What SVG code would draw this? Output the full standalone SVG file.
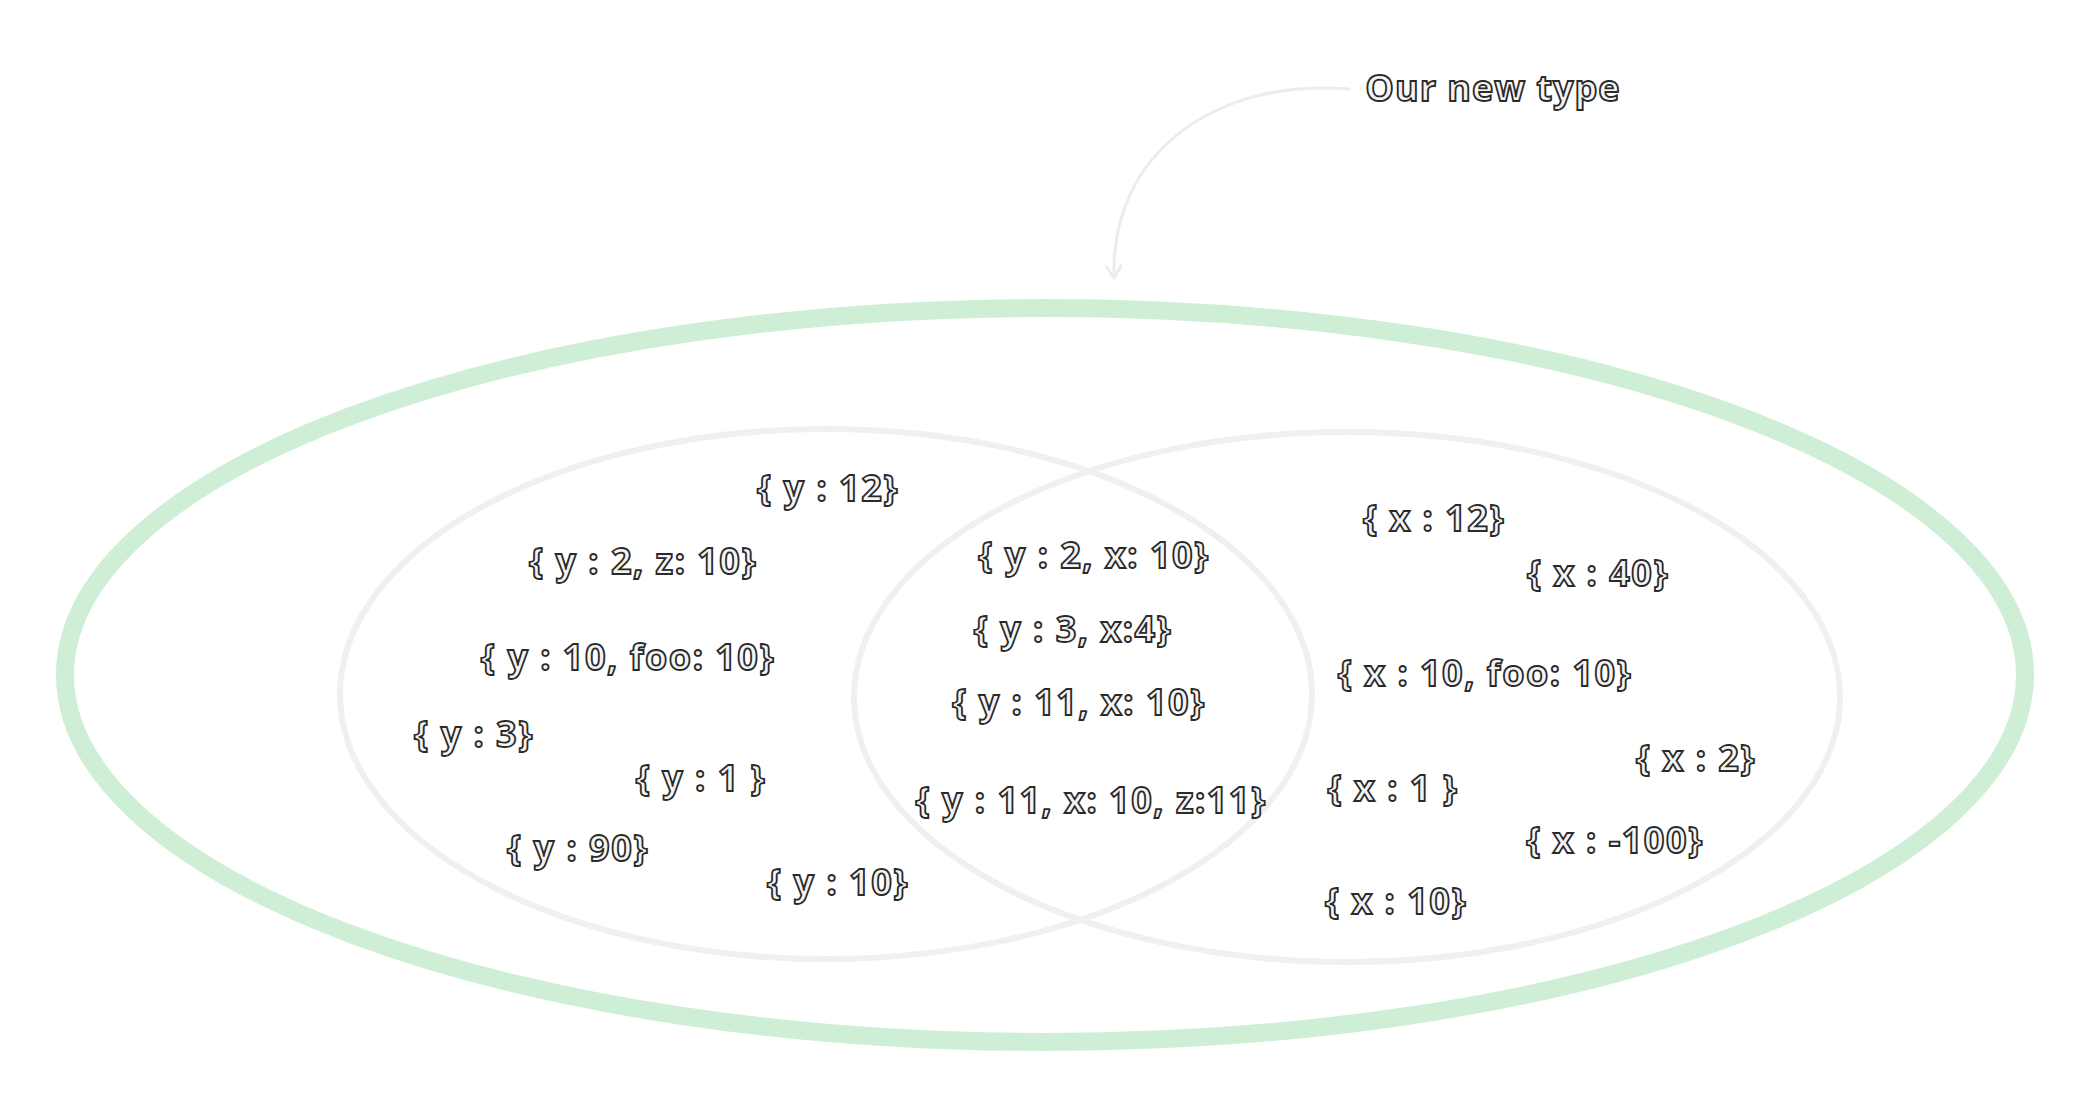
<svg xmlns="http://www.w3.org/2000/svg" width="2090" height="1108" viewBox="0 0 2090 1108">
<defs>
<style>
.lbl{font-family:"Open Sans","Liberation Sans",sans-serif;font-weight:700;font-size:36px;fill:#f4f4f4;stroke:#2a2a2a;stroke-width:1.8px;text-anchor:middle;letter-spacing:1.5px}
.title{font-size:36px;letter-spacing:1px}
.set{fill:none;stroke:#f0f0f0;stroke-width:6}
.outer{fill:none;stroke:#cfeed6;stroke-width:18}
.conn{fill:none;stroke:#ececec;stroke-width:3;stroke-linecap:round}
</style>
<marker id="arr" viewBox="0 0 12 12" refX="10" refY="6" markerWidth="6" markerHeight="6" orient="auto" markerUnits="strokeWidth">
<path d="M2 1 L10 6 L2 11" fill="none" stroke="#ececec" stroke-width="2" stroke-linecap="round" stroke-linejoin="round"/>
</marker>
</defs>
<rect width="2090" height="1108" fill="#ffffff"/>
<g id="outer-set"><ellipse class="outer" cx="1045" cy="675" rx="980" ry="367"/></g>
<g id="set-y"><ellipse class="set" cx="826" cy="694" rx="486" ry="265"/></g>
<g id="set-x"><ellipse class="set" cx="1347" cy="697" rx="493" ry="265"/></g>
<g id="connectors"><path class="conn" d="M1349 89 C1220 78 1110 150 1114 278" marker-end="url(#arr)"/></g>
<g id="label-title"><text class="lbl title" x="1493" y="101">Our new type</text></g>
<g id="y-values">
<text class="lbl" x="828" y="501">{ y : 12}</text>
<text class="lbl" x="643" y="574">{ y : 2, z: 10}</text>
<text class="lbl" x="628" y="670">{ y : 10, foo: 10}</text>
<text class="lbl" x="474" y="747">{ y : 3}</text>
<text class="lbl" x="701" y="791">{ y : 1 }</text>
<text class="lbl" x="578" y="861">{ y : 90}</text>
<text class="lbl" x="838" y="895">{ y : 10}</text>
</g>
<g id="xy-values">
<text class="lbl" x="1094" y="568">{ y : 2, x: 10}</text>
<text class="lbl" x="1073" y="642">{ y : 3, x:4}</text>
<text class="lbl" x="1079" y="715">{ y : 11, x: 10}</text>
<text class="lbl" x="1091" y="813">{ y : 11, x: 10, z:11}</text>
</g>
<g id="x-values">
<text class="lbl" x="1434" y="531">{ x : 12}</text>
<text class="lbl" x="1598" y="586">{ x : 40}</text>
<text class="lbl" x="1485" y="686">{ x : 10, foo: 10}</text>
<text class="lbl" x="1696" y="771">{ x : 2}</text>
<text class="lbl" x="1393" y="801">{ x : 1 }</text>
<text class="lbl" x="1615" y="853">{ x : -100}</text>
<text class="lbl" x="1396" y="914">{ x : 10}</text>
</g>
</svg>
